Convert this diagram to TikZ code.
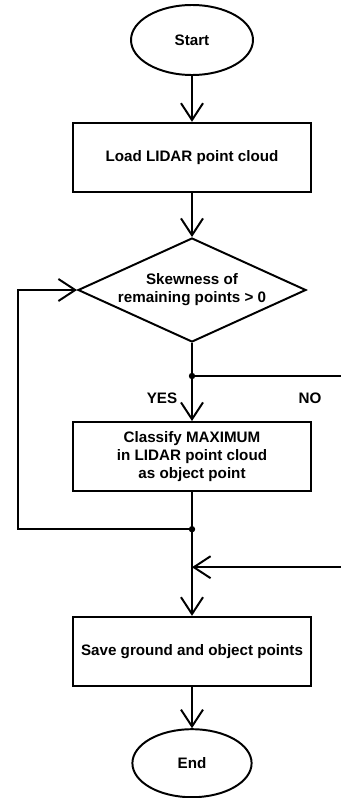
\documentclass[tikz,border=0pt]{standalone}
\usepackage{fontspec}
\setmainfont{Liberation Sans}
\usetikzlibrary{shapes.geometric,arrows.meta}

\begin{document}
\begin{tikzpicture}[
    font=\bfseries\fontsize{10.8}{12.8}\selectfont,
    line width=1.4pt,
    terminal/.style={draw, ellipse, minimum width=3.05cm, minimum height=1.75cm},
    process/.style={draw, rectangle, minimum width=5.95cm, minimum height=1.72cm, align=center},
    decision/.style={draw, diamond, aspect=2.19, minimum width=5.7cm, minimum height=2.6cm, inner sep=0pt, align=center},
    flow/.style={-{Straight Barb[length=0.42cm, width=0.55cm]}},
    joint/.style={circle, fill, inner sep=0pt, minimum size=0.16cm}
]
    \useasboundingbox (0,0) rectangle (8.525,-19.95);

    \node[terminal] (start) at (4.8,-1.0) {Start};
    \node[process] (load) at (4.8,-3.93) {Load LIDAR point cloud};
    \node[decision] (skew) at (4.8,-7.25) {Skewness of\\remaining points > 0};
    \node[joint] (split) at (4.8,-9.4) {};
    \node[process] (classify) at (4.8,-11.41) {Classify MAXIMUM\\in LIDAR point cloud\\as object point};
    \node[joint] (loop) at (4.8,-13.23) {};
    \coordinate (merge) at (4.8,-14.18);
    \node[process] (save) at (4.8,-16.28) {Save ground and object points};
    \node[terminal, minimum width=2.98cm, minimum height=1.7cm] (end) at (4.8,-19.08) {End};

    \coordinate (left) at (0.45,-13.23);
    \coordinate (noout) at (8.525,-9.4);
    \coordinate (noin) at (8.525,-14.18);

    \node (yes) at (4.05,-9.95) {YES};
    \node (no) at (7.75,-9.95) {NO};

    \draw[flow] (start) -- (load);
    \draw[flow] (load) -- (skew);
    \draw (skew.south) -- (split.center);
    \draw[flow] (split.center) -- (classify);
    \draw (split.center) -- (noout);
    \draw (classify.south) -- (loop.center);
    \draw[flow] (loop.center) -- (left) |- (skew.west);
    \draw[flow] (noin) -- (merge);
    \draw[flow] (loop.center) -- (save);
    \draw[flow] (save) -- (end);
\end{tikzpicture}
\end{document}
